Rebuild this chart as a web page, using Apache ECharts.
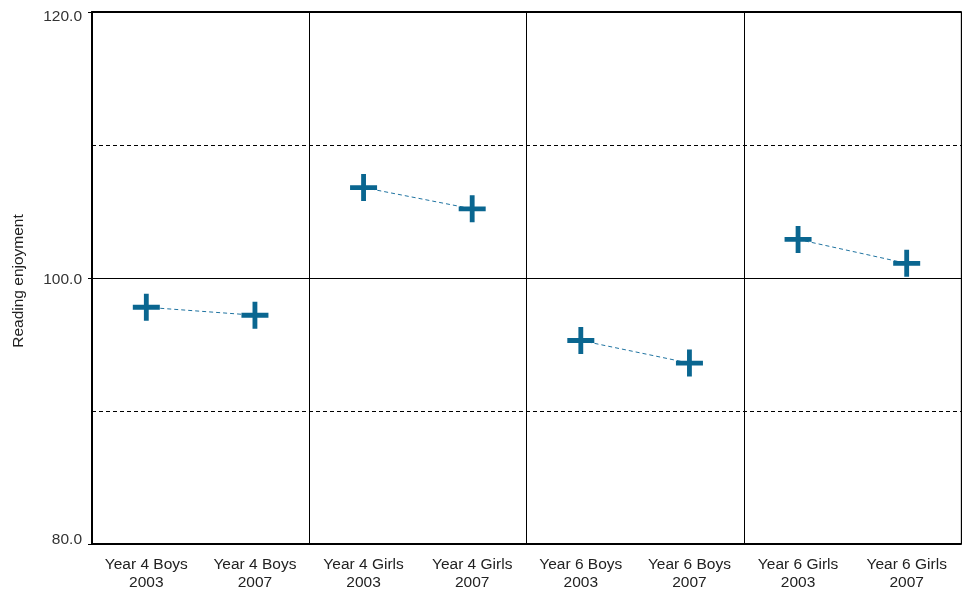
<!DOCTYPE html>
<html><head><meta charset="utf-8">
<script src="https://cdn.jsdelivr.net/npm/echarts@6/dist/echarts.min.js"></script>
<style>html,body{margin:0;padding:0;background:#fff}#c{width:962px;height:592px}</style>
</head><body><div id="c"></div>
<script>
var categories = ['Year 4 Boys\n2003','Year 4 Boys\n2007','Year 4 Girls\n2003','Year 4 Girls\n2007','Year 6 Boys\n2003','Year 6 Boys\n2007','Year 6 Girls\n2003','Year 6 Girls\n2007'];
var values = [97.8, 97.2, 106.8, 105.2, 95.3, 93.6, 102.9, 101.1];
var yTickLabels = [80, 100, 120];

var font = 'Liberation Sans, Arial, sans-serif';
var markColor = '#0a6690';
var series = [];
for (var g = 0; g < 4; g++) {
  var d = categories.map(function(){ return null; });
  d[2*g] = values[2*g];
  d[2*g+1] = values[2*g+1];
  series.push({
    type: 'line', data: d, xAxisIndex: 0, yAxisIndex: 0,
    symbol: 'path://M11.5,0h5v11.5h11.5v5h-11.5v11.5h-5v-11.5h-11.5v-5h11.5z',
    symbolSize: 27,
    itemStyle: { color: markColor },
    lineStyle: { color: '#1f73a0', width: 1, type: [4, 3] },
    connectNulls: false, silent: true, z: 5
  });
}
var chart = echarts.init(document.getElementById('c'), null, {renderer: 'canvas'});
chart.setOption({
  animation: false,
  grid: { left: 92, right: 1, top: 12, bottom: 45, show: true, borderColor: '#aaa', borderWidth: 1, containLabel: false },
  xAxis: [{
    type: 'category', data: categories, boundaryGap: true,
    axisLine: { show: true, lineStyle: { color: '#000', width: 2 } },
    axisTick: { show: false },
    splitLine: { show: false },
    axisLabel: { color: '#222', fontFamily: font, fontSize: 15.5, lineHeight: 18, margin: 12, interval: 0 }
  }, {
    type: 'value', min: 0, max: 8, interval: 2, show: true, position: 'top',
    axisLine: { show: true, lineStyle: { color: '#000', width: 2 } },
    axisTick: { show: false }, axisLabel: { show: false },
    splitLine: { show: true, lineStyle: { color: '#000', width: 1 } }
  }],
  yAxis: [{
    type: 'value', min: 80, max: 120, interval: 10,
    name: 'Reading enjoyment', nameLocation: 'middle', nameGap: 65, nameRotate: 90,
    nameTextStyle: { color: '#222', fontFamily: font, fontSize: 15.5, padding: [0, 6, 0, 0] },
    axisLine: { show: true, lineStyle: { color: '#000', width: 2 } },
    axisTick: { show: false },
    axisLabel: { color: '#333', fontFamily: font, fontSize: 15.5, margin: 10,
      formatter: function(v){
        if (yTickLabels.indexOf(v) < 0) return '';
        var s = v.toFixed(1);
        if (v === 120) return '{t|' + s + '}';
        if (v === 80) return '{b|' + s + '}';
        return '{m|' + s + '}';
      },
      rich: {
        t: { padding: [9, 0, 0, 0], fontSize: 15.5, fontFamily: font, color: '#333' },
        b: { padding: [0, 0, 8, 0], fontSize: 15.5, fontFamily: font, color: '#333' },
        m: { padding: [4, 0, 0, 0], fontSize: 15.5, fontFamily: font, color: '#333' }
      }
    },
    splitLine: { show: true, lineStyle: { color: '#000', width: 1, type: [4, 3] } }
  }, {
    type: 'value', min: 80, max: 120, interval: 20, position: 'left',
    axisLine: { show: false },
    axisTick: { show: true, length: 4, lineStyle: { color: '#000' } },
    axisLabel: { show: false },
    splitLine: { show: true, lineStyle: { color: '#000', width: 1 } }
  }],
  series: series
});
</script></body></html>
